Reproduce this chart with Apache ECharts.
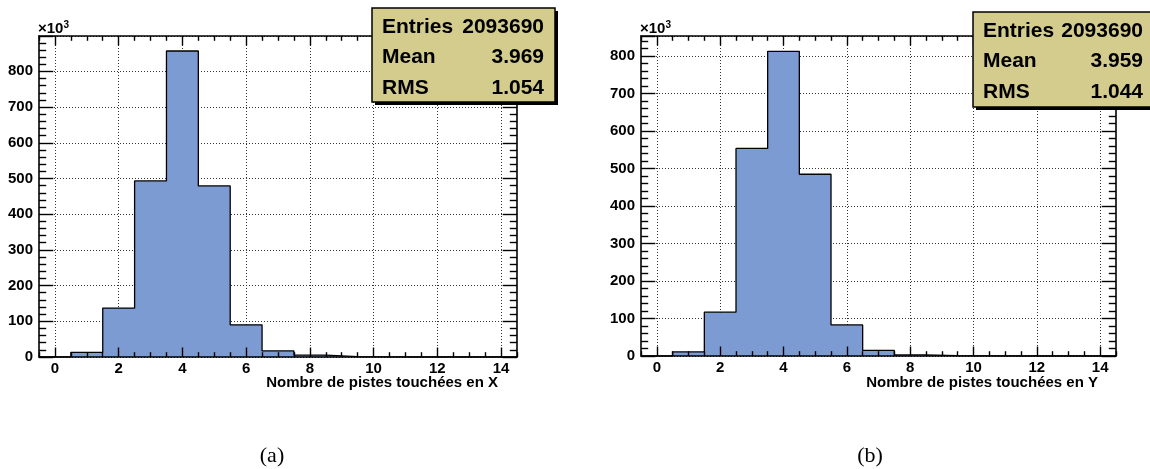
<!DOCTYPE html>
<html>
<head>
<meta charset="utf-8">
<script src="https://cdn.jsdelivr.net/npm/echarts@6/dist/echarts.min.js"></script>
<style>
html,body{margin:0;padding:0;background:#fff;}
#c{width:1150px;height:469px;}
</style>
</head>
<body>
<div id="c"></div>
<script>
// ---- data (counts in units of 10^3) ----
const binCenters = [0, 1, 2, 3, 4, 5, 6, 7, 8, 9, 10, 11, 12, 13, 14];
const countsX = [0, 13, 137, 493, 857, 479, 90, 17, 5, 1, 0.3, 0, 0, 0, 0];
const countsY = [0, 11, 117, 554, 813, 485, 83, 15, 3, 1, 0.3, 0, 0, 0, 0];
const xTickValues = [0, 2, 4, 6, 8, 10, 12, 14];
const yMaxX = 899;
const yMaxY = 854;
const statNames = ['Entries', 'Mean', 'RMS'];
const statsX = ['2093690', '3.969', '1.054'];
const statsY = ['2093690', '3.959', '1.044'];
const titleX = 'Nombre de pistes touchées en X';
const titleY = 'Nombre de pistes touchées en Y';
const captions = ['(a)', '(b)'];

const FONT = 'Liberation Sans';
const FILL = '#7b9bd2';

function stepData(centers, counts) {
  const pts = centers.map((c, i) => [c - 0.5, counts[i]]);
  pts.push([centers[centers.length - 1] + 0.5, counts[counts.length - 1]]);
  return pts;
}
const minorVals = [];
for (let k = -1; k <= 29; k++) { const v = k / 2; if (xTickValues.indexOf(v) < 0) minorVals.push(v); }

const panels = [
  { left: 39, top: 36, width: 478, height: 321, yMax: yMaxX, counts: countsX },
  { left: 641, top: 36, width: 475, height: 320, yMax: yMaxY, counts: countsY }
];

const grid = [], xAxis = [], yAxis = [], series = [];
panels.forEach((p, g) => {
  grid.push({ left: p.left, top: p.top, width: p.width, height: p.height, show: false });
  const xBase = { gridIndex: g, type: 'value', min: -0.5, max: 14.5, splitNumber: 7,
    axisLabel: { show: false }, splitLine: { show: false }, axisLine: { show: false, onZero: false } };
  const xMain = xAxis.length;
  xAxis.push(Object.assign({}, xBase, {
    position: 'bottom', z: 0,
    axisTick: { show: false, customValues: xTickValues },
    axisLabel: { show: true, customValues: xTickValues, color: '#000', fontFamily: FONT, fontWeight: 'bold', fontSize: 15, margin: 4 },
    splitLine: { show: true, lineStyle: { color: '#333', type: [1, 2], width: 1 } }
  }));
  // tick axes (drawn above the histogram)
  [['bottom', xTickValues, 9.5], ['bottom', minorVals, 4.8], ['top', xTickValues, 9.5], ['top', minorVals, 4.8]].forEach(([pos, vals, len], j) => {
    xAxis.push(Object.assign({}, xBase, {
      position: pos, z: 5,
      axisLine: { show: j === 0 || j === 2, onZero: false, lineStyle: { color: '#000', width: 1.6 } },
      axisTick: { show: true, inside: true, customValues: vals, length: len, lineStyle: { color: '#000', width: 1.4 } }
    }));
  });
  const yBase = { gridIndex: g, type: 'value', min: 0, max: p.yMax, interval: 100,
    axisLabel: { show: false }, splitLine: { show: false } };
  const yMain = yAxis.length;
  yAxis.push(Object.assign({}, yBase, {
    position: 'left', z: 0,
    axisLine: { show: false, onZero: false }, axisTick: { show: false },
    axisLabel: { show: true, showMaxLabel: false, color: '#000', fontFamily: FONT, fontWeight: 'bold', fontSize: 15, margin: 6 },
    splitLine: { show: true, lineStyle: { color: '#333', type: [1, 2], width: 1 } }
  }));
  ['left', 'right'].forEach(pos => {
    yAxis.push(Object.assign({}, yBase, {
      position: pos, z: 5,
      axisLine: { show: true, onZero: false, lineStyle: { color: '#000', width: 1.6 } },
      axisTick: { show: true, inside: true, length: 14.3, lineStyle: { color: '#000', width: 1.4 } },
      minorTick: { show: true, splitNumber: 5, length: 7.2, lineStyle: { color: '#000', width: 1.4 } }
    }));
  });
  series.push({
    type: 'line', xAxisIndex: xMain, yAxisIndex: yMain, step: 'end', symbol: 'none', z: 2,
    data: stepData(binCenters, p.counts),
    lineStyle: { color: '#000', width: 1.3 },
    areaStyle: { color: FILL, opacity: 1 },
    animation: false
  });
});

function statsBox(x, y, w, h, rows, vals) {
  const els = [
    { type: 'rect', shape: { x: x + 3, y: y + 3, width: w, height: h }, style: { fill: '#000' }, z: 100 },
    { type: 'rect', shape: { x: x, y: y, width: w, height: h }, style: { fill: '#d3cc8c', stroke: '#000', lineWidth: 1.5 }, z: 101 }
  ];
  rows.forEach((r, i) => {
    const cy = y + 19 + i * 30.5;
    els.push({ type: 'text', x: x + 10, y: cy, z: 102, style: { text: r, fill: '#000', font: 'bold 21px "Liberation Sans"', textAlign: 'left', textVerticalAlign: 'middle' } });
    els.push({ type: 'text', x: x + w - 11, y: cy, z: 102, style: { text: vals[i], fill: '#000', font: 'bold 21px "Liberation Sans"', textAlign: 'right', textVerticalAlign: 'middle' } });
  });
  return els;
}

function unitLabel(x) {
  return { type: 'text', x: x, y: 29, style: {
    text: '×10{s|3}', fill: '#000', font: 'bold 15px "Liberation Sans"', textAlign: 'left', textVerticalAlign: 'middle',
    rich: { s: { fontSize: 10, fontWeight: 'bold', fontFamily: FONT, verticalAlign: 'top', padding: [0, 0, 7, 0] } } } };
}

const graphic = [].concat(
  statsBox(372, 8, 183, 94, statNames, statsX),
  statsBox(973, 12, 181, 95, statNames, statsY),
  [
    unitLabel(38), unitLabel(640),
    { type: 'text', x: 498, y: 383, style: { text: titleX, fill: '#000', font: 'bold 15px "Liberation Sans"', textAlign: 'right', textVerticalAlign: 'middle' } },
    { type: 'text', x: 1098, y: 383, style: { text: titleY, fill: '#000', font: 'bold 15px "Liberation Sans"', textAlign: 'right', textVerticalAlign: 'middle' } },
    { type: 'text', x: 272, y: 456, style: { text: captions[0], fill: '#000', font: '22px "Liberation Serif"', textAlign: 'center', textVerticalAlign: 'middle' } },
    { type: 'text', x: 870, y: 456, style: { text: captions[1], fill: '#000', font: '22px "Liberation Serif"', textAlign: 'center', textVerticalAlign: 'middle' } }
  ]
);

const chart = echarts.init(document.getElementById('c'), null, { renderer: 'canvas' });
chart.setOption({ animation: false, backgroundColor: '#fff', grid, xAxis, yAxis, series, graphic });
</script>
</body>
</html>
